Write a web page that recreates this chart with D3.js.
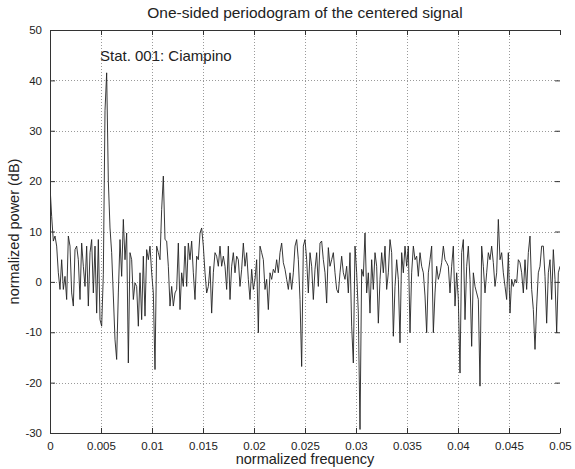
<!DOCTYPE html>
<html>
<head>
<meta charset="utf-8">
<script src="https://cdn.jsdelivr.net/npm/d3@7"></script>
<style>
  html, body { margin: 0; padding: 0; background: #fff; }
  svg { display: block; font-family: "Liberation Sans", Arial, sans-serif; }
</style>
</head>
<body>
<svg id="chart" width="575" height="469"></svg>
<script>
// Periodogram power (dB) on a uniform frequency grid from 0 to 0.05
const powerDb = [
  19, 13.0, 8.1, 9.1, 7.1, 1.8, -1.5, 4.4, -1.5, 1.1,
  -3.5, 9.1, 7.1, -2.2, -4.8, 6.4, 7.1, 4.4, -3.5, 7.7,
  3.1, -0.9, 7.1, -4.8, 5.8, 8.4, -2.2, 7.1, -6.2, 8.4,
  -7.5, -8.8, 1.5, 34, 41.5, 20, 10.7, 5.8, -2.8, -11.5,
  -15.4, -2.2, 8.4, 1.1, 12.4, 4.4, 9.7, -16.1, 5.8, 4.4,
  -3.5, -0.2, -0.9, -8.8, 1.8, -7.5, 5.1, -6.8, 6.4, 4.4,
  7.1, 1.8, -2.2, -17.4, 7.1, 5.8, 4.4, 14.4, 21, 8.4,
  8.1, 3.1, -4.8, -0.9, -4.8, -2.2, -1.5, 7.7, -5.5, 1.8,
  -0.9, 7.1, -0.9, 7.7, 4.4, 8.1, 1.8, -3.5, 5.1, 4.4,
  9.7, 10.7, 7.1, 1.8, -2.2, -0.9, 3.1, -6.2, 1.8, 5.8,
  5.1, 3.1, 7.1, 3.1, 5.1, 3.1, -1.5, 7.1, -3.5, 3.1,
  5.8, 1.8, 5.1, 4.4, -0.9, 2.5, 7.7, 3.1, 5.8, 0.5,
  -3.5, 2.5, -1.5, 0.5, 4.4, -10.1, 7.1, 5.8, 4.4, -1.5,
  0.5, -5.5, 1.8, 0.5, 2.5, 1.8, 4.4, 1.8, 5.8, 7.7,
  3.8, 2.5, 0.5, -1.5, 1.8, -1.5, 1.8, 7.1, 8.4, 4.4,
  -3.5, -16.8,
  7.1, 8.4, 4.4, -2.2, 5.8, 3.1, -3.5, 2.5, 5.8, -0.9,
  7.7, 8.1, 4.4, 1.8, -4.2, 6.8, 3.1, 4.4, 5.8, 1.8,
  -1.5, -2.2, 1.8, 5.1, 1.8, 0.5, 3.1, -2.2, 5.8, -8.8,
  -16.1, 7.1, 1.8, -6.2, -29.3, 2.5, 1.1, 9.7, -2.2, 1.8,
  -6.2, 4.4, -1.5, 5.8, 3.1, -8.2, 0.5, 5.8, 1.8, 7.1,
  -1.5, 1.8, 8.4, 5.8, -10.8, -0.9, 4.4, 0.5, -12.1, 5.8,
  1.8, 7.1, 3.1, 7.1, -10.1, 1.8, 7.1, 4.4, 5.1, 1.1,
  5.8, 3.1, 1.8, -2.8, -10.1, 1.8, 4.4, 7.1, -10.1, -2.2,
  3.1, 0.5, 1.8, 3.8, 7.1, 4.4, 3.8, 3.1, -2.2, 3.1,
  7.1, -4.8, 1.8, -3.5, -18.1, 5.8, 8.4, -7.5, 3.1, 7.1,
  0.5, -12.8, 1.8, -0.9, -2.2, -3.5, -20.7, 7.1, 3.1, -2.2,
  1.8, 5.8, 4.4, 7.1, 3.8, -0.9, 1.8, 12.4, 4.4, 5.8,
  1.8, -0.9, -3.5, 5.8, -6.2, 0.5, -0.9, 0.5, -0.2, 4.4,
  3.8, 1.8, -2.2, 4.4, -1.5, 5.8, 9.1, -1.5, -5.5, -13.4,
  -4.8, 1.8, 3.1, 7.1, 7.1, 1.1, -8.2, 1.8, 4.4, -3.5,
  6.4, 0.5, -10.1, 1.8, 3.1
];

const fMax = 0.05;
const frequencies = d3.range(powerDb.length).map(i => i * fMax / (powerDb.length - 1));

const xTicks = [0, 0.005, 0.01, 0.015, 0.02, 0.025, 0.03, 0.035, 0.04, 0.045, 0.05];
const xTickLabels = ["0", "0.005", "0.01", "0.015", "0.02", "0.025", "0.03", "0.035", "0.04", "0.045", "0.05"];
const yTicks = [-30, -20, -10, 0, 10, 20, 30, 40, 50];
const yTickLabels = ["-30", "-20", "-10", "0", "10", "20", "30", "40", "50"];

const titleText = "One-sided periodogram of the centered signal";
const xLabelText = "normalized frequency";
const yLabelText = "normalized power (dB)";
const noteText = "Stat. 001: Ciampino";

const svg = d3.select("#chart");
const plotLeft = 50, plotRight = 560, plotTop = 30, plotBottom = 433;

const x = d3.scaleLinear().domain([0, fMax]).range([plotLeft, plotRight]);
const y = d3.scaleLinear().domain([-30, 50]).range([plotBottom, plotTop]);

// Dotted grid
const grid = svg.append("g").attr("stroke", "#9a9a9a").attr("stroke-width", 1)
  .attr("stroke-dasharray", "1,2").attr("shape-rendering", "crispEdges");
grid.selectAll("line.v").data(xTicks.slice(1, -1)).join("line")
  .attr("x1", d => Math.round(x(d)) + 0.5).attr("x2", d => Math.round(x(d)) + 0.5)
  .attr("y1", plotTop).attr("y2", plotBottom);
grid.selectAll("line.h").data(yTicks.slice(1, -1)).join("line")
  .attr("y1", d => Math.round(y(d)) + 0.5).attr("y2", d => Math.round(y(d)) + 0.5)
  .attr("x1", plotLeft).attr("x2", plotRight);

// Spectrum line
svg.append("defs").append("clipPath").attr("id", "plotclip")
  .append("rect").attr("x", plotLeft).attr("y", plotTop)
  .attr("width", plotRight - plotLeft).attr("height", plotBottom - plotTop);

const line = d3.line().x((d, i) => x(frequencies[i])).y(d => y(d));
svg.append("path").datum(powerDb)
  .attr("clip-path", "url(#plotclip)")
  .attr("fill", "none").attr("stroke", "#222").attr("stroke-width", 0.9)
  .attr("d", line);

// Axes (ticks pointing inward)
const xAxisB = d3.axisBottom(x).tickValues(xTicks).tickFormat((d, i) => xTickLabels[i])
  .tickSizeInner(-5).tickSizeOuter(0).tickPadding(9);
const gxb = svg.append("g").attr("transform", `translate(0,${plotBottom})`).call(xAxisB);

const xAxisT = d3.axisTop(x).tickValues(xTicks).tickFormat("").tickSizeInner(-5).tickSizeOuter(0);
const gxt = svg.append("g").attr("transform", `translate(0,${plotTop})`).call(xAxisT);

const yAxisL = d3.axisLeft(y).tickValues(yTicks).tickFormat((d, i) => yTickLabels[i])
  .tickSizeInner(-5).tickSizeOuter(0).tickPadding(8);
const gyl = svg.append("g").attr("transform", `translate(${plotLeft},0)`).call(yAxisL);

const yAxisR = d3.axisRight(y).tickValues(yTicks).tickFormat("").tickSizeInner(-5).tickSizeOuter(0);
const gyr = svg.append("g").attr("transform", `translate(${plotRight},0)`).call(yAxisR);
gyr.select(".domain").remove();

[gxb, gxt, gyl, gyr].forEach(g => {
  g.selectAll(".domain").attr("stroke", "#333").attr("stroke-width", 1);
  g.selectAll(".tick line").attr("stroke", "#333");
  g.selectAll(".tick text").attr("fill", "#222").attr("font-size", 11.5)
    .attr("font-family", "'Liberation Sans', Arial, sans-serif");
});

// Labels
svg.append("text").attr("x", (plotLeft + plotRight) / 2).attr("y", 18)
  .attr("text-anchor", "middle").attr("font-size", 15.5).attr("fill", "#222").text(titleText);
svg.append("text").attr("x", (plotLeft + plotRight) / 2).attr("y", 464)
  .attr("text-anchor", "middle").attr("font-size", 14.5).attr("fill", "#222").text(xLabelText);
svg.append("text").attr("transform", `translate(19,${(plotTop + plotBottom) / 2}) rotate(-90)`)
  .attr("text-anchor", "middle").attr("font-size", 14.5).attr("fill", "#222").text(yLabelText);
svg.append("text").attr("x", x(0.0049)).attr("y", 61)
  .attr("font-size", 15).attr("fill", "#222").text(noteText);
</script>
</body>
</html>
